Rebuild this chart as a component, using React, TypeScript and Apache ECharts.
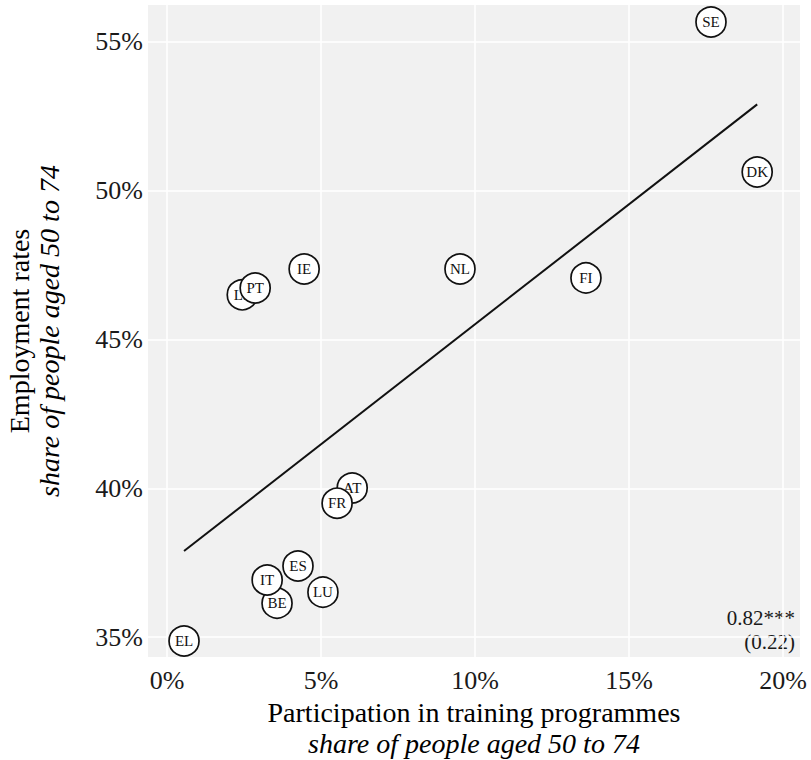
import { useEffect, useRef } from 'react';
import * as echarts from 'echarts';

const countries = ['AT', 'BE', 'DK', 'EL', 'ES', 'FI', 'FR', 'IE', 'IT', 'LT', 'LU', 'NL', 'PT', 'SE'];
const participation = [6.01, 3.57, 19.16, 0.55, 4.25, 13.6, 5.52, 4.45, 3.25, 2.44, 5.06, 9.51, 2.86, 17.66];
const employment = [40.01, 36.14, 50.63, 34.87, 37.39, 47.07, 39.5, 47.37, 36.92, 46.5, 36.51, 47.37, 46.73, 55.67];
const fitX = [0.55, 19.16];
const fitY = [37.89, 52.9];
const coefficient = '0.82***';
const stdError = '(0.22)';
const xTitle = 'Participation in training programmes';
const xSubtitle = 'share of people aged 50 to 74';
const yTitle = 'Employment rates';
const ySubtitle = 'share of people aged 50 to 74';

const SERIF = '"Liberation Serif", "DejaVu Serif", serif';

export default function App() {
  const ref = useRef<HTMLDivElement>(null);
  useEffect(() => {
    if (!ref.current) return;
    const chart = echarts.init(ref.current, undefined, { renderer: 'svg' });
    const fit = fitX.map((x, i) => [x, fitY[i]]);
    const axisLabel = {
      formatter: '{value}%',
      fontSize: 26,
      fontFamily: SERIF,
      color: '#1a1a1a',
      showMinLabel: false,
      showMaxLabel: false,
    };
    const splitLine = {
      show: true,
      showMinLine: false,
      showMaxLine: false,
      lineStyle: { color: '#ffffff', width: 1.5 },
    };
    // one series per country so each label stays with its own circle in drawing order
    const pointSeries = countries.map((c, i) => ({
      type: 'scatter',
      name: c,
      data: [[participation[i], employment[i], c]],
      symbol: 'circle',
      symbolSize: 30,
      clip: false,
      z: 3 + i,
      itemStyle: { color: '#ffffff', borderColor: '#111', borderWidth: 1.7, opacity: 1 },
      label: {
        show: true,
        position: 'inside',
        formatter: (p: any) => p.data[2],
        fontSize: 15,
        fontFamily: SERIF,
        color: '#111',
      },
    }));
    chart.setOption({
      animation: false,
      grid: {
        left: 148,
        right: 11,
        top: 5,
        bottom: 103,
        show: true,
        backgroundColor: '#f1f1f1',
        borderWidth: 0,
      },
      xAxis: {
        type: 'value',
        min: -0.62,
        max: 20.55,
        minInterval: 5,
        maxInterval: 5,
        axisLine: { show: false },
        axisTick: { show: false },
        axisLabel: { ...axisLabel, margin: 10 },
        splitLine,
      },
      yAxis: {
        type: 'value',
        min: 34.33,
        max: 56.24,
        minInterval: 5,
        maxInterval: 5,
        axisLine: { show: false },
        axisTick: { show: false },
        axisLabel: { ...axisLabel, margin: 5 },
        splitLine,
      },
      series: [
        {
          type: 'line',
          data: fit,
          symbol: 'none',
          clip: false,
          z: 2,
          lineStyle: { color: '#111', width: 2 },
        },
        ...pointSeries,
      ],
      graphic: [
        {
          type: 'text',
          x: 795,
          y: 618,
          style: {
            text: coefficient,
            font: `21px ${SERIF}`,
            fill: '#1a1a1a',
            textAlign: 'right',
            textVerticalAlign: 'middle',
          },
        },
        {
          type: 'text',
          x: 795,
          y: 642,
          style: {
            text: stdError,
            font: `21px ${SERIF}`,
            fill: '#1a1a1a',
            textAlign: 'right',
            textVerticalAlign: 'middle',
          },
        },
        {
          type: 'text',
          x: 474,
          y: 712,
          style: {
            text: xTitle,
            font: `28px ${SERIF}`,
            fill: '#000',
            textAlign: 'center',
            textVerticalAlign: 'middle',
          },
        },
        {
          type: 'text',
          x: 474,
          y: 743,
          style: {
            text: xSubtitle,
            font: `italic 28px ${SERIF}`,
            fill: '#000',
            textAlign: 'center',
            textVerticalAlign: 'middle',
          },
        },
        {
          type: 'text',
          x: 19,
          y: 331,
          rotation: Math.PI / 2,
          style: {
            text: yTitle,
            font: `28px ${SERIF}`,
            fill: '#000',
            textAlign: 'center',
            textVerticalAlign: 'middle',
          },
        },
        {
          type: 'text',
          x: 49,
          y: 331,
          rotation: Math.PI / 2,
          style: {
            text: ySubtitle,
            font: `italic 28px ${SERIF}`,
            fill: '#000',
            textAlign: 'center',
            textVerticalAlign: 'middle',
          },
        },
      ],
    });
    return () => chart.dispose();
  }, []);
  return <div ref={ref} style={{ position: 'absolute', left: 0, top: 0, width: 811, height: 760 }} />;
}
